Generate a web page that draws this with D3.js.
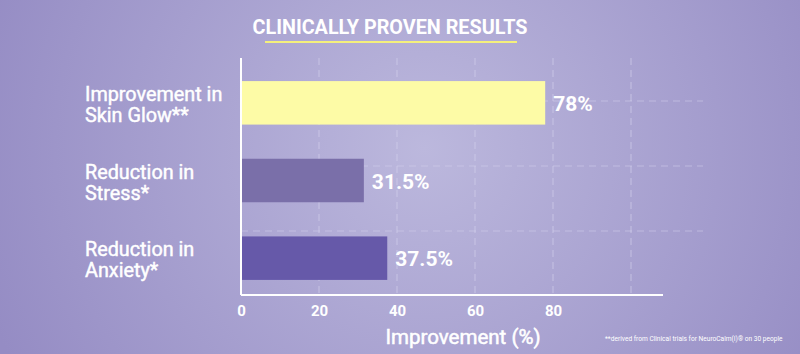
<!DOCTYPE html>
<html>
<head>
<meta charset="utf-8">
<script src="https://cdn.jsdelivr.net/npm/d3@7"></script>
<style>
  body { margin: 0; padding: 0; overflow: hidden; }
  svg { display: block; font-family: Roboto, "Open Sans", sans-serif; }
</style>
</head>
<body>
<svg id="SVG_CONTAINER"></svg>
<script>
// data
const categories = [["Improvement in", "Skin Glow**"], ["Reduction in", "Stress*"], ["Reduction in", "Anxiety*"]];
const values = [78, 31.5, 37.5];
const valueLabels = ["78%", "31.5%", "37.5%"];
const tickValues = [0, 20, 40, 60, 80, 100];
const tickLabels = ["0", "20", "40", "60", "80", ""];
const barColours = ["#fdfba6", "#7a6fa9", "#6659a9"];

const width = 800, height = 354;
const MARGIN = { LEFT: 241, TOP: 58, BOTTOM: 295 };

let svg = d3.select("#SVG_CONTAINER").attr("width", width).attr("height", height);

//** BACKGROUND *****************************************
let defs = svg.append("defs");
let grad = defs.append("radialGradient")
    .attr("id", "bg")
    .attr("cx", 0.53).attr("cy", 0.42).attr("r", 0.58)
    .attr("gradientTransform", "translate(0.53 0.42) scale(1 2.26) translate(-0.53 -0.42)");
grad.append("stop").attr("offset", "0%").attr("stop-color", "#bcb8dd");
grad.append("stop").attr("offset", "100%").attr("stop-color", "#958cc4");

svg.append("rect").attr("width", width).attr("height", height).attr("fill", "url(#bg)");

//** SCALES *****************************************
let xScale = d3.scaleLinear()
    .domain([0, 80])
    .range([MARGIN.LEFT, 553]);

let yScale = d3.scaleBand()
    .domain(d3.range(categories.length))
    .range([64, 297])
    .paddingInner(0.44)
    .paddingOuter(0.22);

let gridY = d3.scalePoint()
    .domain(d3.range(categories.length))
    .range([101, 231]);

let chart = svg.append("g").attr("class", "barChart");

//** GRID *****************************************
chart.append("g").attr("class", "grid_x")
    .selectAll("line")
    .data(tickValues.slice(1))
    .enter().append("line")
    .attr("x1", d => xScale(d)).attr("x2", d => xScale(d))
    .attr("y1", MARGIN.TOP).attr("y2", MARGIN.BOTTOM)
    .attr("stroke", "#d6d2ec").attr("stroke-opacity", 0.55)
    .attr("stroke-width", 1.2)
    .attr("stroke-dasharray", "7,5");

chart.append("g").attr("class", "grid_y")
    .selectAll("line")
    .data(d3.range(categories.length))
    .enter().append("line")
    .attr("x1", MARGIN.LEFT).attr("x2", 703)
    .attr("y1", d => gridY(d)).attr("y2", d => gridY(d))
    .attr("stroke", "#d6d2ec").attr("stroke-opacity", 0.55)
    .attr("stroke-width", 1.2)
    .attr("stroke-dasharray", "7,5");

//** BARS *****************************************
chart.append("g").attr("class", "bars")
    .selectAll("rect")
    .data(values)
    .enter().append("rect")
    .attr("x", xScale(0))
    .attr("y", (d, i) => yScale(i))
    .attr("width", d => xScale(d) - xScale(0))
    .attr("height", yScale.bandwidth())
    .attr("fill", (d, i) => barColours[i]);

chart.append("g").attr("class", "value_labels")
    .selectAll("text")
    .data(values)
    .enter().append("text")
    .attr("x", d => xScale(d) + 8)
    .attr("y", (d, i) => yScale(i) + yScale.bandwidth() / 2 + 8)
    .attr("fill", "#ffffff")
    .attr("font-size", "21px")
    .attr("font-weight", "bold")
    .text((d, i) => valueLabels[i]);

//** AXES *****************************************
let xAxis = d3.axisBottom(xScale)
    .tickValues(tickValues)
    .tickFormat((d, i) => tickLabels[i])
    .tickSize(0)
    .tickPadding(10);

let gx = chart.append("g")
    .attr("class", "x_axis")
    .attr("transform", "translate(0," + MARGIN.BOTTOM + ")")
    .call(xAxis);
gx.select(".domain").remove();
gx.selectAll("text")
    .attr("fill", "#ffffff")
    .attr("font-size", "15px")
    .attr("font-weight", "bold")
    .attr("font-family", "Roboto, sans-serif");

// axis lines
chart.append("line")
    .attr("x1", xScale(0)).attr("x2", 663)
    .attr("y1", MARGIN.BOTTOM).attr("y2", MARGIN.BOTTOM)
    .attr("stroke", "#ffffff").attr("stroke-width", 2);
chart.append("line")
    .attr("x1", xScale(0)).attr("x2", xScale(0))
    .attr("y1", MARGIN.TOP).attr("y2", MARGIN.BOTTOM)
    .attr("stroke", "#ffffff").attr("stroke-width", 2);

// category labels (medium look: regular weight plus thin stroke)
let catLabels = chart.append("g").attr("class", "y_labels")
    .selectAll("text")
    .data(categories)
    .enter().append("text")
    .attr("x", 85)
    .attr("y", (d, i) => yScale(i) + yScale.bandwidth() / 2 - 2)
    .attr("fill", "#ffffff")
    .attr("stroke", "#ffffff").attr("stroke-width", 0.45)
    .attr("font-size", "19.8px")
    .attr("font-weight", 400);
catLabels.append("tspan").attr("x", 85).text(d => d[0]);
catLabels.append("tspan").attr("x", 85).attr("dy", 21).text(d => d[1]);

//** TITLES *****************************************
svg.append("text")
    .attr("x", 390).attr("y", 34)
    .attr("text-anchor", "middle")
    .attr("fill", "#ffffff")
    .attr("font-size", "19.8px")
    .attr("font-weight", "bold")
    .text("CLINICALLY PROVEN RESULTS");
svg.append("line")
    .attr("x1", 265).attr("x2", 517)
    .attr("y1", 42).attr("y2", 42)
    .attr("stroke", "#f4f07c").attr("stroke-width", 2);

svg.append("text")
    .attr("x", 463).attr("y", 344)
    .attr("text-anchor", "middle")
    .attr("fill", "#ffffff")
    .attr("stroke", "#ffffff").attr("stroke-width", 0.5)
    .attr("font-size", "20.5px")
    .attr("font-weight", 400)
    .text("Improvement (%)");

svg.append("text")
    .attr("x", 605).attr("y", 341)
    .attr("fill", "#ffffff")
    .attr("font-size", "6.6px")
    .text("**derived from Clinical trials for NeuroCalm(I)® on 30 people");
</script>
</body>
</html>
